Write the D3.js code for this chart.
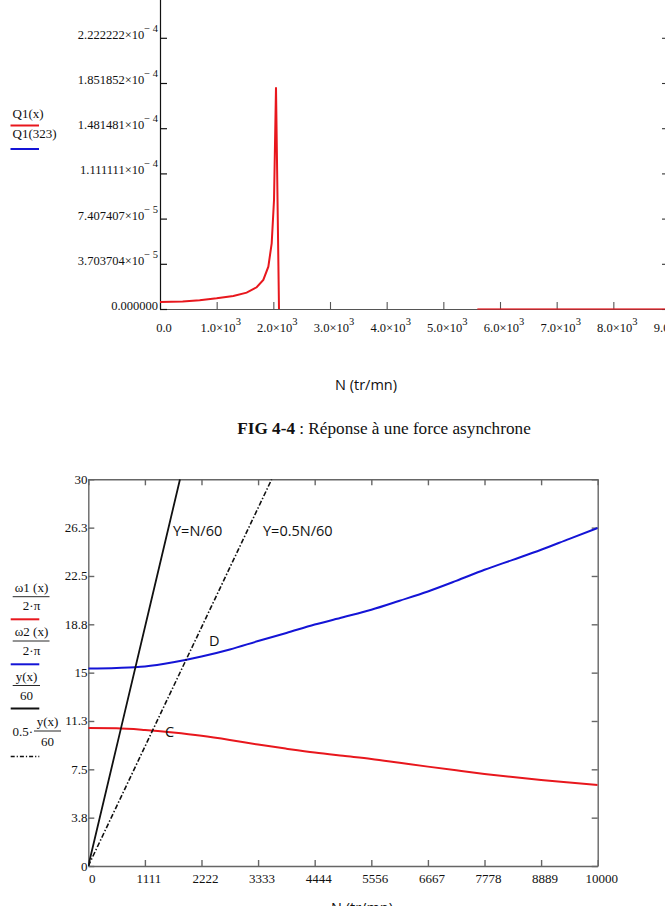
<!DOCTYPE html>
<html><head><meta charset="utf-8">
<script src="https://cdn.jsdelivr.net/npm/d3@7/dist/d3.min.js"></script>
<style>body{margin:0;background:#fff}svg{display:block}</style>
</head><body><svg id="c" width="665" height="906"></svg>
<script>
// ---------- TOP CHART DATA (FIG 4-4) ----------
const topN = [0, 400, 700, 1000, 1294, 1529, 1706, 1823, 1912, 1971, 2012, 2047, 2100];
const topQ = [0.57e-5, 0.62e-5, 0.72e-5, 0.88e-5, 1.07e-5, 1.34e-5, 1.78e-5, 2.38e-5, 3.47e-5, 5.38e-5, 8.93e-5, 18.17e-5, 0];
const topTailN = [5600, 9000];
const topTailQ = [0, 0];
const topXTicks = [0, 1000, 2000, 3000, 4000, 5000, 6000, 7000, 8000, 9000];
const topXMant = ["0.0", "1.0", "2.0", "3.0", "4.0", "5.0", "6.0", "7.0", "8.0", "9.0"];
const topXExp = ["", "3", "3", "3", "3", "3", "3", "3", "3", "3"];
const topYTicks = [0, 3.703704e-5, 7.407407e-5, 1.111111e-4, 1.481481e-4, 1.851852e-4, 2.222222e-4, 2.592593e-4];
const topYMant = ["0.000000", "3.703704", "7.407407", "1.111111", "1.481481", "1.851852", "2.222222", "2.592593"];
const topYExp = ["", "\u2212 5", "\u2212 5", "\u2212 4", "\u2212 4", "\u2212 4", "\u2212 4", "\u2212 4"];
const topLegend = ["Q1(x)", "Q1(323)"];
const topColors = ["#e8171d", "#1414d6"];

// ---------- BOTTOM CHART DATA ----------
const botN = [0, 555, 1111, 1667, 2222, 2778, 3333, 3889, 4444, 5000, 5556, 6111, 6667, 7222, 7778, 8333, 8889, 9444, 10000];
const omega1 = [10.70, 10.68, 10.55, 10.35, 10.10, 9.78, 9.42, 9.10, 8.80, 8.55, 8.31, 8.01, 7.71, 7.42, 7.14, 6.90, 6.68, 6.48, 6.29];
const omega2 = [15.32, 15.36, 15.47, 15.80, 16.25, 16.80, 17.45, 18.08, 18.73, 19.30, 19.88, 20.58, 21.30, 22.12, 22.98, 23.75, 24.53, 25.38, 26.22];
const fullN = [0, 600, 1200, 1800];
const fullY = [0, 10, 20, 30];
const halfN = [0, 1200, 2400, 3600];
const halfY = [0, 10, 20, 30];
const botXTicks = [0, 1111, 2222, 3333, 4444, 5556, 6667, 7778, 8889, 10000];
const botXLabels = ["0", "1111", "2222", "3333", "4444", "5556", "6667", "7778", "8889", "10000"];
const botYTicks = [0, 3.75, 7.5, 11.25, 15, 18.75, 22.5, 26.25, 30];
const botYLabels = ["0", "3.8", "7.5", "11.3", "15", "18.8", "22.5", "26.3", "30"];

const serif = "'Liberation Serif','Times New Roman',serif";
const sans = "'Open Sans','Noto Sans',sans-serif";
const svg = d3.select("#c");

// ================= TOP CHART =================
const xT = d3.scaleLinear([0, 9000], [160, 670]);
const yT = d3.scaleLinear([0, 2.592593e-4], [309, -7.4]);
const gT = svg.append("g");

gT.append("g").attr("transform", "translate(0,309)")
  .call(d3.axisBottom(xT).tickValues(topXTicks).tickSizeInner(-7).tickSizeOuter(0).tickFormat(""))
  .call(g => g.selectAll("path,line").attr("stroke", "#555").attr("stroke-width", 1.1));
gT.append("g").attr("transform", "translate(160,0)")
  .call(d3.axisLeft(yT).tickValues(topYTicks).tickSizeInner(-7).tickSizeOuter(0).tickFormat(""))
  .call(g => g.selectAll("path,line").attr("stroke", "#111").attr("stroke-width", 1.2));
gT.append("g").attr("transform", "translate(670,0)")
  .call(d3.axisRight(yT).tickValues(topYTicks).tickSizeInner(-8).tickSizeOuter(0).tickFormat(""))
  .call(g => g.selectAll("path,line").attr("stroke", "#333").attr("stroke-width", 1.1));

// x labels
const xl = gT.append("g").attr("font-family", serif).attr("font-size", 12.5).attr("fill", "#111");
topXTicks.forEach((v, i) => {
  const t = xl.append("text").attr("x", xT(v) + 4).attr("y", 332).attr("text-anchor", "middle");
  if (topXExp[i] === "") { t.text(topXMant[i]); }
  else {
    t.append("tspan").text(topXMant[i] + "\u00d710");
    t.append("tspan").attr("dy", -7).attr("font-size", 10.5).text(topXExp[i]);
  }
});
// y labels (only those inside the visible plot area)
const yl = gT.append("g").attr("font-family", serif).attr("font-size", 12.5).attr("fill", "#111");
topYTicks.forEach((v, i) => {
  if (yT(v) < 10) return;
  const t = yl.append("text").attr("x", 158).attr("y", yT(v) + 1).attr("text-anchor", "end");
  if (topYExp[i] === "") { t.text(topYMant[i]); }
  else {
    t.append("tspan").text(topYMant[i] + "\u00d710");
    t.append("tspan").attr("dy", -7).attr("font-size", 10.5).text(topYExp[i]);
  }
});

// red line
const lineT = d3.line().x(d => xT(d[0])).y(d => yT(d[1]));
gT.append("path").datum(d3.zip(topN, topQ)).attr("d", lineT)
  .attr("fill", "none").attr("stroke", topColors[0]).attr("stroke-width", 2);
gT.append("path").datum(d3.zip(topTailN, topTailQ)).attr("d", lineT)
  .attr("fill", "none").attr("stroke", topColors[0]).attr("stroke-width", 1.6).attr("opacity", 0.8);

// legend
topLegend.forEach((s, i) => {
  gT.append("text").attr("x", 12.5).attr("y", 118 + i * 19.5).attr("font-family", serif)
    .attr("font-size", 13).attr("fill", "#111").text(s);
  gT.append("line").attr("x1", 10.5).attr("x2", 39).attr("y1", 125.5 + i * 23.5).attr("y2", 125.5 + i * 23.5)
    .attr("stroke", topColors[i]).attr("stroke-width", 2);
});

// captions
svg.append("text").attr("x", 366).attr("y", 390).attr("text-anchor", "middle")
  .attr("font-family", sans).attr("font-size", 14.5).attr("fill", "#111").text("N (tr/mn)");
const cap = svg.append("text").attr("x", 384).attr("y", 434).attr("text-anchor", "middle")
  .attr("font-family", serif).attr("font-size", 17.2).attr("fill", "#111");
cap.append("tspan").attr("font-weight", "bold").text("FIG 4-4");
cap.append("tspan").text(" : Réponse à une force asynchrone");

// ================= BOTTOM CHART =================
const xB = d3.scaleLinear([0, 10000], [88.3, 597.7]);
const yB = d3.scaleLinear([0, 30], [866, 479.3]);
const gB = svg.append("g");
svg.append("defs").append("clipPath").attr("id", "clipB").append("rect")
  .attr("x", 88.3).attr("y", 479.3).attr("width", 597.7 - 88.3).attr("height", 866 - 479.3);

const axStyle = g => g.selectAll("path,line").attr("stroke", "#666").attr("stroke-width", 1.4);
gB.append("g").attr("transform", "translate(0,866)")
  .call(d3.axisBottom(xB).tickValues(botXTicks).tickSizeInner(-6).tickSizeOuter(0).tickFormat("")).call(axStyle);
gB.append("g").attr("transform", "translate(0,479.3)")
  .call(d3.axisTop(xB).tickValues(botXTicks).tickSizeInner(-6).tickSizeOuter(0).tickFormat("")).call(axStyle);
gB.append("g").attr("transform", "translate(88.3,0)")
  .call(d3.axisLeft(yB).tickValues(botYTicks).tickSizeInner(-6).tickSizeOuter(0).tickFormat("")).call(axStyle);
gB.append("g").attr("transform", "translate(597.7,0)")
  .call(d3.axisRight(yB).tickValues(botYTicks).tickSizeInner(-6).tickSizeOuter(0).tickFormat("")).call(axStyle);

gB.append("g").attr("font-family", serif).attr("font-size", 13).attr("fill", "#111")
  .selectAll("text").data(botXTicks).join("text")
  .attr("x", d => xB(d) + 4).attr("y", 883).attr("text-anchor", "middle").text((d, i) => botXLabels[i]);
gB.append("g").attr("font-family", serif).attr("font-size", 13).attr("fill", "#111")
  .selectAll("text").data(botYTicks).join("text")
  .attr("x", 87.5).attr("y", d => yB(d) + 4.5).attr("text-anchor", "end").text((d, i) => botYLabels[i]);

const lineB = d3.line().x(d => xB(d[0])).y(d => yB(d[1]));
const plot = gB.append("g").attr("clip-path", "url(#clipB)");
plot.append("path").datum(d3.zip(botN, omega1)).attr("d", lineB.curve(d3.curveMonotoneX))
  .attr("fill", "none").attr("stroke", "#e8171d").attr("stroke-width", 2);
plot.append("path").datum(d3.zip(botN, omega2)).attr("d", lineB.curve(d3.curveMonotoneX))
  .attr("fill", "none").attr("stroke", "#1414d6").attr("stroke-width", 2);
const lineL = d3.line().x(d => xB(d[0])).y(d => yB(d[1]));
plot.append("path").datum(d3.zip(fullN, fullY)).attr("d", lineL)
  .attr("fill", "none").attr("stroke", "#111").attr("stroke-width", 1.8);
plot.append("path").datum(d3.zip(halfN, halfY)).attr("d", lineL)
  .attr("fill", "none").attr("stroke", "#111").attr("stroke-width", 1.6).attr("stroke-dasharray", "5,2,1.5,2");

// annotations
const ann = gB.append("g").attr("font-family", sans).attr("font-size", 14.5).attr("fill", "#111");
ann.append("text").attr("x", 173).attr("y", 536).text("Y=N/60");
ann.append("text").attr("x", 263).attr("y", 536).text("Y=0.5N/60");
ann.append("text").attr("x", 209).attr("y", 646).text("D");
ann.append("text").attr("x", 165).attr("y", 737).text("C");

// bottom legend
const lg = gB.append("g").attr("font-family", serif).attr("font-size", 13).attr("fill", "#111");
function frac(num, den, cx, yNum, yBar, yDen, x1, x2) {
  lg.append("text").attr("x", cx).attr("y", yNum).attr("text-anchor", "middle").text(num);
  lg.append("line").attr("x1", x1).attr("x2", x2).attr("y1", yBar).attr("y2", yBar).attr("stroke", "#111").attr("stroke-width", 0.9);
  lg.append("text").attr("x", cx).attr("y", yDen).attr("text-anchor", "middle").text(den);
}
frac("\u03c91 (x)", "2\u00b7\u03c0", 31.5, 591.5, 596.7, 610, 12.7, 49.5);
lg.append("line").attr("x1", 10.7).attr("x2", 39.3).attr("y1", 619.3).attr("y2", 619.3).attr("stroke", "#e8171d").attr("stroke-width", 2);
frac("\u03c92 (x)", "2\u00b7\u03c0", 31.5, 636, 641, 655, 12.7, 49.5);
lg.append("line").attr("x1", 10.7).attr("x2", 39.3).attr("y1", 664.3).attr("y2", 664.3).attr("stroke", "#1414d6").attr("stroke-width", 2);
frac("y(x)", "60", 26.5, 680.5, 685.5, 700, 12.7, 40);
lg.append("line").attr("x1", 10.7).attr("x2", 39.3).attr("y1", 708.5).attr("y2", 708.5).attr("stroke", "#111").attr("stroke-width", 2);
lg.append("text").attr("x", 12.5).attr("y", 736).text("0.5\u00b7");
frac("y(x)", "60", 47.5, 725.5, 731, 745.5, 34, 61);
lg.append("line").attr("x1", 10.7).attr("x2", 39.3).attr("y1", 756.5).attr("y2", 756.5).attr("stroke", "#111").attr("stroke-width", 1.5).attr("stroke-dasharray", "4,2,1.2,2");

svg.append("text").attr("x", 362).attr("y", 913).attr("text-anchor", "middle")
  .attr("font-family", sans).attr("font-size", 14.5).attr("fill", "#111").text("N (tr/mn)");
</script></body></html>
